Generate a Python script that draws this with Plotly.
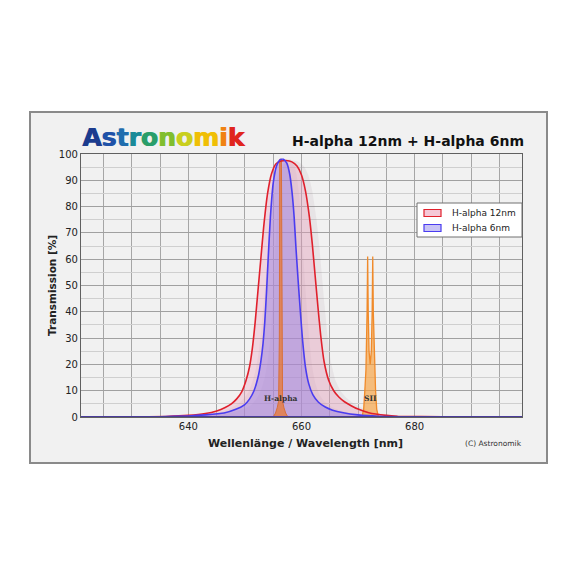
import plotly.graph_objects as go

# ---------------- data ----------------
wl_12nm = [620, 630, 636, 640, 643, 645, 646.5, 647.6, 648.5, 649.4, 650.2, 650.8, 651.3, 651.8,
           652.3, 652.8, 653.3, 654.0, 654.7, 655.5, 656.4, 657.3, 658.3, 659.2, 660.0,
           660.7, 661.4, 661.9, 662.4, 662.9, 663.4, 664.0, 664.8, 665.7, 666.6, 667.6,
           668.7, 670, 671.9, 675, 677, 685, 699]
tr_12nm = [0, 0.05, 0.2, 0.6, 1.3, 2.3, 3.6, 5, 6.8, 9.5, 14, 19, 26, 36,
           48, 60, 72, 85, 92.5, 96.3, 97.3, 97.5, 97, 95.4, 92,
           86, 76, 66, 54, 42, 31, 21, 14, 10, 7.6, 5.8,
           4.4, 3, 1.6, 0.6, 0.3, 0.05, 0]

wl_6nm = [620, 635, 640, 643, 646.3, 648.5, 649.9, 650.8, 651.6, 652.3, 652.8, 653.2, 653.5,
          653.8, 654.1, 654.5, 655.0, 655.6, 656.2, 656.8, 657.4, 657.9, 658.3, 658.7,
          659.0, 659.4, 659.8, 660.2, 660.7, 661.3, 662.0, 663.0, 664.2, 665.5, 667.4,
          670, 673.6, 680, 699]
tr_6nm = [0, 0.1, 0.4, 0.8, 1.5, 3, 4.6, 6.8, 10, 15, 21, 28, 36,
          47, 60, 76, 89, 95.5, 97.8, 98, 96.5, 92.5, 86, 76,
          65, 52, 40, 29, 19, 12.5, 8.5, 5.6, 3.8, 2.6, 1.6,
          0.8, 0.3, 0.1, 0]

wl_halpha = [655.0, 655.4, 655.7, 655.95, 656.08, 656.15, 656.45, 656.52, 656.65, 656.9, 657.2, 657.6]
tr_halpha = [0, 1.5, 3.5, 6, 30, 98, 98, 30, 6, 3.5, 1.5, 0]

wl_sii = [670.7, 671.0, 671.2, 671.4, 671.6, 671.7, 671.8, 671.95, 672.15, 672.35, 672.5,
          672.6, 672.7, 672.9, 673.1, 673.3, 673.6]
tr_sii = [0, 3, 10, 18, 40, 61, 40, 25, 20, 25, 40,
          61, 40, 18, 10, 3, 0]

shadow_shift = 1.2  # nm, drop shadow offset

series_names = ["H-alpha 12nm", "H-alpha 6nm"]
x_ticks = [640, 660, 680]
logo_letters = list("Astronomik")
logo_colors = ["#1c3c8e", "#1f52a8", "#1f6eae", "#1a8a98", "#2a9e6a",
               "#80be2e", "#c9cf1e", "#f0bf06", "#f08212", "#e0251e"]

RED = "#e0202c"
BLUE = "#4a3cf0"
SM = 0.5

# ---------------- figure ----------------
fig = go.Figure()

for wl, tr in [(wl_12nm, tr_12nm), (wl_6nm, tr_6nm)]:
    fig.add_trace(go.Scatter(x=[w + shadow_shift for w in wl], y=tr, mode="lines",
                             line=dict(width=0, shape="spline", smoothing=SM),
                             fill="tozeroy", fillcolor="rgba(150,120,135,0.10)",
                             showlegend=False, hoverinfo="skip"))

fig.add_trace(go.Scatter(x=wl_12nm, y=tr_12nm, mode="lines",
                         line=dict(width=0, shape="spline", smoothing=SM),
                         fill="tozeroy", fillcolor="rgba(238,165,195,0.38)",
                         showlegend=False, hoverinfo="skip"))
fig.add_trace(go.Scatter(x=wl_6nm, y=tr_6nm, mode="lines",
                         line=dict(width=0, shape="spline", smoothing=SM),
                         fill="tozeroy", fillcolor="rgba(145,125,235,0.42)",
                         showlegend=False, hoverinfo="skip"))

fig.add_trace(go.Scatter(x=wl_halpha, y=tr_halpha, mode="lines",
                         line=dict(width=1, color="#d8703a"),
                         fill="tozeroy", fillcolor="rgba(232,120,50,0.75)",
                         showlegend=False, hoverinfo="skip"))
fig.add_trace(go.Scatter(x=wl_sii, y=tr_sii, mode="lines",
                         line=dict(width=1.3, color="#f08a2a"),
                         fill="tozeroy", fillcolor="rgba(248,160,60,0.65)",
                         showlegend=False, hoverinfo="skip"))

fig.add_trace(go.Scatter(x=wl_12nm, y=tr_12nm, mode="lines", name=series_names[0],
                         line=dict(width=1.6, color=RED, shape="spline", smoothing=SM),
                         showlegend=False, hoverinfo="skip"))
fig.add_trace(go.Scatter(x=wl_6nm, y=tr_6nm, mode="lines", name=series_names[1],
                         line=dict(width=1.6, color=BLUE, shape="spline", smoothing=SM),
                         showlegend=False, hoverinfo="skip"))

# page coordinates -> figure (body has an 8px margin)
OFF = 8
L, R, T, B = 81 - OFF, 522 - OFF, 154 - OFF, 417 - OFF
W = H = 563
pw, ph = R - L, B - T

def px(x):
    return (x - OFF - L) / pw

def py(y):
    return (B - (y - OFF)) / ph

tick_font = dict(family="DejaVu Sans", size=10, color="#222222")

fig.update_layout(
    width=W, height=H, autosize=False,
    margin=dict(l=L, r=W - R, t=T, b=H - B, pad=0),
    paper_bgcolor="white", plot_bgcolor="#f8f8f8",
    showlegend=False,
    xaxis=dict(range=[621, 699], tickvals=x_ticks, ticks="", showgrid=True,
               gridcolor="#a6a6a6", gridwidth=1,
               minor=dict(dtick=5, tick0=620, showgrid=True, gridcolor="#a6a6a6", gridwidth=1),
               showline=True, linecolor="#606060", linewidth=1.2, mirror=True,
               zeroline=False, tickfont=tick_font, fixedrange=True),
    yaxis=dict(range=[0, 100], dtick=10, ticks="", showgrid=True,
               gridcolor="#a0a0a0", gridwidth=1,
               minor=dict(dtick=5, showgrid=True, gridcolor="#cfcfcf", gridwidth=1),
               showline=True, linecolor="#606060", linewidth=1.2, mirror=True,
               zeroline=False, tickfont=tick_font, fixedrange=True),
)

# purple baseline (curves resting on 0)
fig.add_shape(type="line", xref="x domain", yref="y", layer="above",
              x0=0, x1=1, y0=0, y1=0, line=dict(color="#4a3c9a", width=2))

# frame
fig.add_shape(type="rect", xref="paper", yref="paper", layer="below",
              x0=px(30), x1=px(547), y0=py(463), y1=py(112),
              fillcolor="#f1f1f1", line=dict(color="#8a8a8a", width=2))

# legend (drawn box)
fig.add_shape(type="rect", xref="paper", yref="paper", layer="above",
              x0=px(417), x1=px(522), y0=py(237), y1=py(203),
              fillcolor="white", line=dict(color="#707070", width=1))
legend_rows = [(series_names[0], RED, "rgba(245,200,215,1)", 213),
               (series_names[1], BLUE, "rgba(200,195,245,1)", 228)]
for name, lc, fc, yc in legend_rows:
    fig.add_shape(type="rect", xref="paper", yref="paper", layer="above",
                  x0=px(424), x1=px(441), y0=py(yc + 3.5), y1=py(yc - 3.5),
                  fillcolor=fc, line=dict(color=lc, width=1.2))
    fig.add_annotation(x=px(450), y=py(yc), xref="paper", yref="paper",
                       xanchor="left", yanchor="middle", text=name, showarrow=False,
                       font=dict(family="DejaVu Sans", size=9, color="#222222"))

# logo (drawn twice with a 1px offset to get the heavy weight)
logo_html = "".join(f"<span style='color:{c}'>{ch}</span>" for ch, c in zip(logo_letters, logo_colors))
for dx in (0, 1):
    fig.add_annotation(x=px(80 + dx), y=py(137), xref="paper", yref="paper", xanchor="left",
                       yanchor="middle", text=f"<b>{logo_html}</b>", showarrow=False,
                       font=dict(family="DejaVu Sans", size=25))

# title
fig.add_annotation(x=px(526), y=py(141), xref="paper", yref="paper", xanchor="right", yanchor="middle",
                   text="<b>H-alpha 12nm + H-alpha 6nm</b>", showarrow=False,
                   font=dict(family="DejaVu Sans", size=14, color="#111111"))

# axis titles
fig.add_annotation(x=px(52), y=py(286), xref="paper", yref="paper", xanchor="center", yanchor="middle",
                   text="<b>Transmission [%]</b>", textangle=-90, showarrow=False,
                   font=dict(family="DejaVu Sans", size=10.5, color="#222222"))
fig.add_annotation(x=px(305), y=py(443), xref="paper", yref="paper", xanchor="center", yanchor="middle",
                   text="<b>Wellenlänge / Wavelength [nm]</b>", showarrow=False,
                   font=dict(family="DejaVu Sans", size=11, color="#222222"))
fig.add_annotation(x=px(493), y=py(443), xref="paper", yref="paper", xanchor="center", yanchor="middle",
                   text="(C) Astronomik", showarrow=False,
                   font=dict(family="DejaVu Sans", size=7.5, color="#333333"))

# line labels
fig.add_annotation(x=656.3, y=py(398), xref="x", yref="paper", xanchor="center", yanchor="middle",
                   text="<b>H-alpha</b>", showarrow=False,
                   font=dict(family="DejaVu Serif", size=7.5, color="#333333"))
fig.add_annotation(x=672.2, y=py(398), xref="x", yref="paper", xanchor="center", yanchor="middle",
                   text="<b>SII</b>", showarrow=False,
                   font=dict(family="DejaVu Serif", size=7.5, color="#333333"))

fig.write_html("out.html")
